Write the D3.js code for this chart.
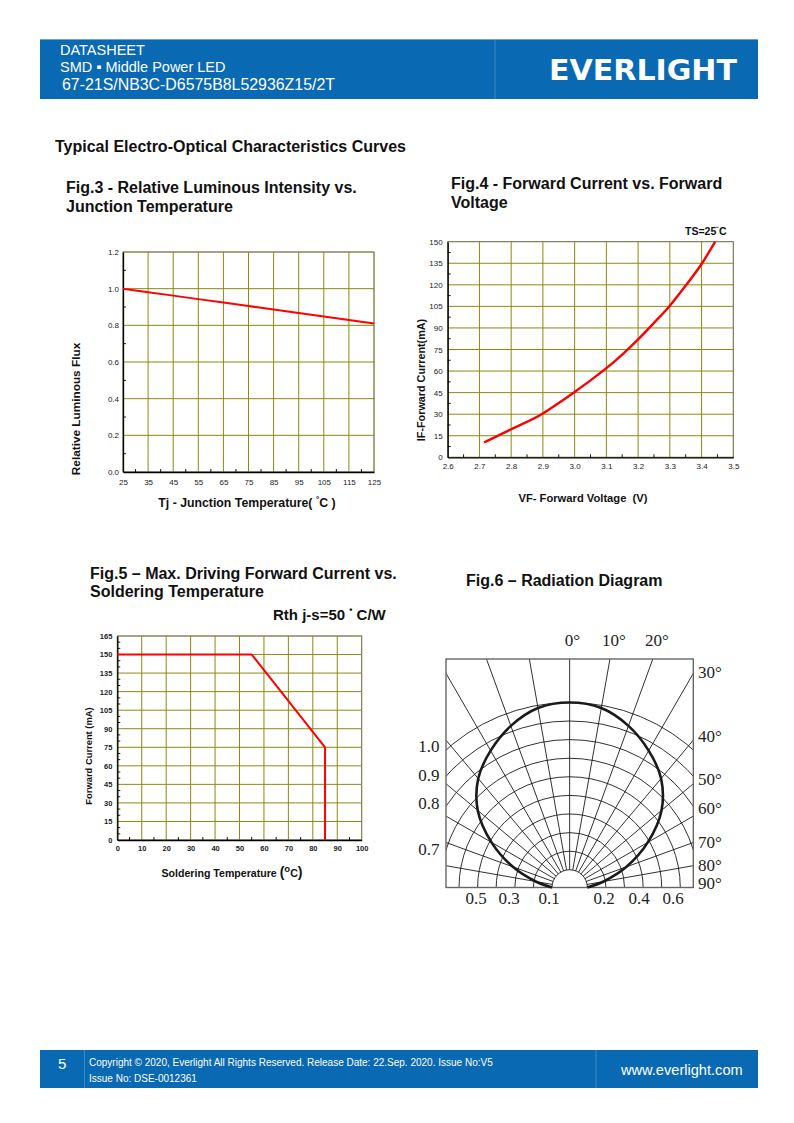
<!DOCTYPE html>
<html><head><meta charset="utf-8">
<script src="https://cdn.jsdelivr.net/npm/d3@7"></script>
<style>
body{margin:0;background:#fff}
svg{display:block}
text{font-family:"Liberation Sans",Arial,sans-serif}
</style>
</head><body>
<svg id="page" width="794" height="1123"></svg>
<script>
// ---------------- DATA ----------------
// Fig.3 Relative luminous flux vs junction temperature
const fig3Temp = [25, 35, 45, 55, 65, 75, 85, 95, 105, 115, 125];
const fig3Flux = [1.0, 0.981, 0.962, 0.943, 0.924, 0.905, 0.886, 0.867, 0.848, 0.829, 0.81];
const fig3XTicks = [25, 35, 45, 55, 65, 75, 85, 95, 105, 115, 125];
const fig3XMinor = [30, 40, 50, 60, 70, 80, 90, 100, 110, 120];
const fig3YTicks = [0, 0.2, 0.4, 0.6, 0.8, 1.0, 1.2];
const fig3YMinor = [0.1, 0.3, 0.5, 0.7, 0.9, 1.1];

// Fig.4 Forward current vs forward voltage
const fig4VF = [2.715, 2.8, 2.9, 2.95, 3.0, 3.05, 3.1, 3.15, 3.2, 3.25, 3.3, 3.35, 3.4, 3.443];
const fig4IF = [10.4, 19.5, 30.5, 37.8, 45.5, 53.5, 62, 71.5, 82, 93.5, 105.5, 119.5, 134.5, 150];
const fig4XTicks = [2.6, 2.7, 2.8, 2.9, 3.0, 3.1, 3.2, 3.3, 3.4, 3.5];
const fig4XMinor = [2.65, 2.75, 2.85, 2.95, 3.05, 3.15, 3.25, 3.35, 3.45];
const fig4YTicks = [0, 15, 30, 45, 60, 75, 90, 105, 120, 135, 150];
const fig4YMinor = [7.5, 22.5, 37.5, 52.5, 67.5, 82.5, 97.5, 112.5, 127.5, 142.5];

// Fig.5 Max driving forward current vs soldering temperature
const fig5Temp = [0, 55, 85, 85];
const fig5Current = [150, 150, 75, 0];
const fig5XTicks = [0, 10, 20, 30, 40, 50, 60, 70, 80, 90, 100];
const fig5XMinor = [5, 15, 25, 35, 45, 55, 65, 75, 85, 95];
const fig5YTicks = [0, 15, 30, 45, 60, 75, 90, 105, 120, 135, 150, 165];
const fig5YMinor = [5, 10, 20, 25, 35, 40, 50, 55, 65, 70, 80, 85, 95, 100, 110, 115, 125, 130, 140, 145, 155, 160];

// Fig.6 Radiation diagram
const radAngles = [-90, -80, -70, -60, -50, -40, -30, -20, -10, 0, 10, 20, 30, 40, 50, 60, 70, 80, 90];
const radIntensity = [0.1, 0.19, 0.33, 0.49, 0.65, 0.77, 0.855, 0.93, 0.985, 1.0, 0.985, 0.93, 0.855, 0.77, 0.65, 0.49, 0.33, 0.19, 0.1];
const radLevels = [0.1, 0.2, 0.3, 0.4, 0.5, 0.6, 0.7, 0.8, 0.9, 1.0];
const radSpokes = [-90, -80, -70, -60, -50, -40, -30, -20, -10, 0, 10, 20, 30, 40, 50, 60, 70, 80, 90];
const radTopLabels = ["0°", "10°", "20°"];
const radRightLabels = ["30°", "40°", "50°", "60°", "70°", "80°", "90°"];
const radLeftLabels = ["1.0", "0.9", "0.8", "0.7"];
const radBottomLeft = ["0.5", "0.3", "0.1"];
const radBottomRight = ["0.2", "0.4", "0.6"];

// ---------------- DRAW ----------------
const svg = d3.select('#page');
const BLUE = '#0a69b3';
const GRID = '#8a8a10';

// Header
svg.append('rect').attr('x', 40).attr('y', 39).attr('width', 718).attr('height', 60).attr('fill', BLUE);
svg.append('line').attr('x1', 40).attr('x2', 758).attr('y1', 39.5).attr('y2', 39.5).attr('stroke', '#6aa3d6').attr('stroke-width', 1);
svg.append('line').attr('x1', 495).attr('x2', 495).attr('y1', 40).attr('y2', 99).attr('stroke', '#3f89c6').attr('stroke-width', 1);
svg.append('text').attr('x', 60).attr('y', 55).attr('fill', '#fff').attr('font-size', 14.5).text('DATASHEET');
svg.append('text').attr('x', 60).attr('y', 72).attr('fill', '#fff').attr('font-size', 14.5).text('SMD ▪ Middle Power LED');
svg.append('text').attr('x', 62).attr('y', 90).attr('fill', '#fff').attr('font-size', 15.9).text('67-21S/NB3C-D6575B8L52936Z15/2T');
svg.append('text').attr('x', 549).attr('y', 79.5).attr('fill', '#fff').attr('font-size', 28).attr('font-weight', 'bold')
  .attr('textLength', 188).attr('lengthAdjust', 'spacingAndGlyphs').style('font-family', '"DejaVu Sans", sans-serif').text('EVERLIGHT');

// Footer
svg.append('rect').attr('x', 40).attr('y', 1050).attr('width', 718).attr('height', 38).attr('fill', BLUE);
svg.append('line').attr('x1', 84.5).attr('x2', 84.5).attr('y1', 1050).attr('y2', 1088).attr('stroke', '#3f89c6');
svg.append('line').attr('x1', 596).attr('x2', 596).attr('y1', 1050).attr('y2', 1088).attr('stroke', '#3f89c6');
svg.append('text').attr('x', 58).attr('y', 1069).attr('fill', '#fff').attr('font-size', 15).text('5');
svg.append('text').attr('x', 89).attr('y', 1066).attr('fill', '#fff').attr('font-size', 10)
  .text('Copyright © 2020, Everlight All Rights Reserved. Release Date: 22.Sep. 2020. Issue No:V5');
svg.append('text').attr('x', 89).attr('y', 1082).attr('fill', '#fff').attr('font-size', 10).text('Issue No: DSE-0012361');
svg.append('text').attr('x', 621).attr('y', 1075).attr('fill', '#fff').attr('font-size', 14.6).text('www.everlight.com');

// Titles
function title(x, y, s, size) {
  svg.append('text').attr('x', x).attr('y', y).attr('font-size', size || 16).attr('font-weight', 'bold').attr('fill', '#111').text(s);
}
title(55, 152, 'Typical Electro-Optical Characteristics Curves');
title(66, 193, 'Fig.3 - Relative Luminous Intensity vs.');
title(66, 212, 'Junction Temperature');
title(451, 189, 'Fig.4 - Forward Current vs. Forward');
title(451, 208, 'Voltage');
title(90, 579, 'Fig.5 – Max. Driving Forward Current vs.');
title(90, 597, 'Soldering Temperature');
title(466, 586, 'Fig.6 – Radiation Diagram');

// Generic rectangular chart
function rectChart(o) {
  const g = svg.append('g');
  const x = d3.scaleLinear().domain(o.xDomain).range([o.x0, o.x1]);
  const y = d3.scaleLinear().domain(o.yDomain).range([o.y1, o.y0]);
  // grid
  g.selectAll('line.gx').data(o.xTicks).join('line')
    .attr('x1', d => x(d)).attr('x2', d => x(d)).attr('y1', o.y0).attr('y2', o.y1)
    .attr('stroke', GRID).attr('stroke-width', 1);
  g.selectAll('line.gy').data(o.yTicks).join('line')
    .attr('x1', o.x0).attr('x2', o.x1).attr('y1', d => y(d)).attr('y2', d => y(d))
    .attr('stroke', GRID).attr('stroke-width', 1);
  // frame
  g.append('rect').attr('x', o.x0).attr('y', o.y0).attr('width', o.x1 - o.x0).attr('height', o.y1 - o.y0)
    .attr('fill', 'none').attr('stroke', '#777').attr('stroke-width', 0.8);
  // axes (library axes for labels)
  const ax = d3.axisBottom(x).tickValues(o.xTicks).tickSize(0).tickPadding(o.xPad).tickFormat(o.xFmt);
  const ay = d3.axisLeft(y).tickValues(o.yTicks).tickSize(0).tickPadding(o.yPad).tickFormat(o.yFmt);
  const gx = g.append('g').attr('transform', `translate(0,${o.y1})`).call(ax);
  const gy = g.append('g').attr('transform', `translate(${o.x0},0)`).call(ay);
  [gx, gy].forEach(a => {
    a.select('.domain').attr('stroke', '#000').attr('stroke-width', 1.3);
    a.selectAll('text').attr('font-size', o.tickSize).attr('fill', '#222')
      .attr('font-weight', o.tickBold ? 'bold' : 'normal').style('font-family', '"Liberation Sans", Arial, sans-serif');
  });
  // minor ticks (inside)
  g.selectAll('line.mx').data(o.xMinor).join('line')
    .attr('x1', d => x(d)).attr('x2', d => x(d)).attr('y1', o.y1).attr('y2', o.y1 - 3)
    .attr('stroke', '#000').attr('stroke-width', 0.9);
  g.selectAll('line.my').data(o.yMinor).join('line')
    .attr('x1', o.x0).attr('x2', o.x0 + 3).attr('y1', d => y(d)).attr('y2', d => y(d))
    .attr('stroke', '#000').attr('stroke-width', 0.9);
  // data line
  const line = d3.line().x(d => x(d[0])).y(d => y(d[1])).curve(o.curve || d3.curveLinear);
  g.append('path').datum(d3.zip(o.xs, o.ys)).attr('d', line)
    .attr('fill', 'none').attr('stroke', '#ff0000').attr('stroke-width', o.lineW || 2).attr('stroke-linejoin', 'round');
  return g;
}

// Fig.3
rectChart({
  x0: 123, x1: 374, y0: 252, y1: 472,
  xDomain: [25, 125], yDomain: [0, 1.2],
  xTicks: fig3XTicks, yTicks: fig3YTicks, xMinor: fig3XMinor, yMinor: fig3YMinor,
  xFmt: d3.format('d'), yFmt: d3.format('.1f'), xPad: 7, yPad: 4, tickSize: 8,
  xs: fig3Temp, ys: fig3Flux, lineW: 2
});
svg.append('text').attr('transform', 'translate(80,409) rotate(-90)').attr('text-anchor', 'middle')
  .attr('font-size', 11.8).attr('font-weight', 'bold').attr('fill', '#111').text('Relative Luminous Flux');
{
  const t = svg.append('text').attr('x', 247).attr('y', 507).attr('text-anchor', 'middle')
    .attr('font-size', 12.3).attr('font-weight', 'bold').attr('fill', '#111');
  t.append('tspan').text('Tj - Junction Temperature( ');
  t.append('tspan').attr('dy', -5).attr('font-size', 8.5).text('°');
  t.append('tspan').attr('dy', 5).text('C )');
}

// Fig.4
rectChart({
  x0: 447.7, x1: 733.3, y0: 241.7, y1: 457.3,
  xDomain: [2.6, 3.5], yDomain: [0, 150],
  xTicks: fig4XTicks, yTicks: fig4YTicks, xMinor: fig4XMinor, yMinor: fig4YMinor,
  xFmt: d3.format('.1f'), yFmt: d3.format('d'), xPad: 6, yPad: 5, tickSize: 8,
  xs: fig4VF, ys: fig4IF, lineW: 2.4, curve: d3.curveMonotoneX
});
svg.append('text').attr('transform', 'translate(425,380) rotate(-90)').attr('text-anchor', 'middle')
  .attr('font-size', 10.8).attr('font-weight', 'bold').attr('fill', '#111').text('IF-Forward Current(mA)');
svg.append('text').attr('x', 583).attr('y', 502).attr('text-anchor', 'middle')
  .attr('font-size', 11.2).attr('font-weight', 'bold').attr('fill', '#111').attr('xml:space', 'preserve').text('VF- Forward Voltage  (V)');
{
  const t = svg.append('text').attr('x', 685).attr('y', 235)
    .attr('font-size', 10.5).attr('font-weight', 'bold').attr('fill', '#111');
  t.append('tspan').text('TS=25');
  t.append('tspan').attr('dy', -3).attr('font-size', 8).text('˘');
  t.append('tspan').attr('dy', 3).text('C');
}

// Fig.5
rectChart({
  x0: 117.3, x1: 361.7, y0: 636, y1: 840,
  xDomain: [0, 100], yDomain: [0, 165],
  xTicks: fig5XTicks, yTicks: fig5YTicks, xMinor: fig5XMinor, yMinor: fig5YMinor,
  xFmt: d3.format('d'), yFmt: d3.format('d'), xPad: 6, yPad: 5, tickSize: 7.5, tickBold: true,
  xs: fig5Temp, ys: fig5Current, lineW: 2
});
svg.append('text').attr('transform', 'translate(92,756) rotate(-90)').attr('text-anchor', 'middle')
  .attr('font-size', 9.4).attr('font-weight', 'bold').attr('fill', '#111').text('Forward Current (mA)');
{
  const t = svg.append('text').attr('x', 232).attr('y', 877).attr('text-anchor', 'middle')
    .attr('font-size', 10.6).attr('font-weight', 'bold').attr('fill', '#111');
  t.append('tspan').text('Soldering Temperature ');
  t.append('tspan').attr('font-size', 14).text('(');
  t.append('tspan').attr('dy', -5).attr('font-size', 9.5).text('o');
  t.append('tspan').attr('dy', 5).text('C');
  t.append('tspan').attr('font-size', 14).text(')');
}
{
  const t = svg.append('text').attr('x', 273).attr('y', 620)
    .attr('font-size', 15).attr('font-weight', 'bold').attr('fill', '#111');
  t.append('tspan').text('Rth j-s=50 ');
  t.append('tspan').attr('dy', -7).attr('font-size', 9).text('•');
  t.append('tspan').attr('dy', 7).text(' C/W');
}

// Fig.6 Radiation diagram
{
  const B = { x0: 446, x1: 693.3, y0: 659, y1: 887.5 };
  const cx = (B.x0 + B.x1) / 2, cy = B.y1;
  const r = d3.scaleLinear().domain([0.1, 1.0]).range([17.7, 185]);
  const g = svg.append('g');
  g.append('clipPath').attr('id', 'clip6').append('rect')
    .attr('x', B.x0).attr('y', B.y0).attr('width', B.x1 - B.x0).attr('height', B.y1 - B.y0);
  const gc = g.append('g').attr('clip-path', 'url(#clip6)');
  gc.selectAll('path.arc').data(radLevels).join('path')
    .attr('d', d => { const p = d3.path(); p.moveTo(cx - r(d), cy); p.arc(cx, cy, r(d), Math.PI, 2 * Math.PI); return p.toString(); })
    .attr('fill', 'none').attr('stroke', '#1a1a1a').attr('stroke-width', 0.9);
  gc.selectAll('line.spoke').data(radSpokes).join('line')
    .attr('x1', d => cx + r(0.1) * Math.sin(d * Math.PI / 180))
    .attr('y1', d => cy - r(0.1) * Math.cos(d * Math.PI / 180))
    .attr('x2', d => cx + 400 * Math.sin(d * Math.PI / 180))
    .attr('y2', d => cy - 400 * Math.cos(d * Math.PI / 180))
    .attr('stroke', '#1a1a1a').attr('stroke-width', 0.9);
  g.append('rect').attr('x', B.x0).attr('y', B.y0).attr('width', B.x1 - B.x0).attr('height', B.y1 - B.y0)
    .attr('fill', 'none').attr('stroke', '#666').attr('stroke-width', 1.4);
  const radial = d3.lineRadial().angle(d => d[0] * Math.PI / 180).radius(d => r(d[1])).curve(d3.curveCatmullRom);
  g.append('path').datum(d3.zip(radAngles, radIntensity)).attr('d', radial)
    .attr('transform', `translate(${cx},${cy})`)
    .attr('fill', 'none').attr('stroke', '#1a1a1a').attr('stroke-width', 2.6);

  const serif = '"Liberation Serif", "Times New Roman", serif';
  const lab = (x, y, s, anchor) => g.append('text').attr('x', x).attr('y', y).attr('text-anchor', anchor || 'start')
    .attr('font-size', 17).attr('fill', '#222').style('font-family', serif).text(s);
  const topX = [572.5, 614, 657];
  radTopLabels.forEach((s, i) => lab(topX[i], 646, s, 'middle'));
  const rightY = [678, 742, 785, 814, 848, 871, 889];
  radRightLabels.forEach((s, i) => lab(698, rightY[i], s));
  const leftY = [752, 781, 809, 855];
  radLeftLabels.forEach((s, i) => lab(439.5, leftY[i], s, 'end'));
  const blX = [476, 509, 549];
  radBottomLeft.forEach((s, i) => lab(blX[i], 904, s, 'middle'));
  const brX = [604, 639, 673];
  radBottomRight.forEach((s, i) => lab(brX[i], 904, s, 'middle'));
}
</script>
</body></html>
